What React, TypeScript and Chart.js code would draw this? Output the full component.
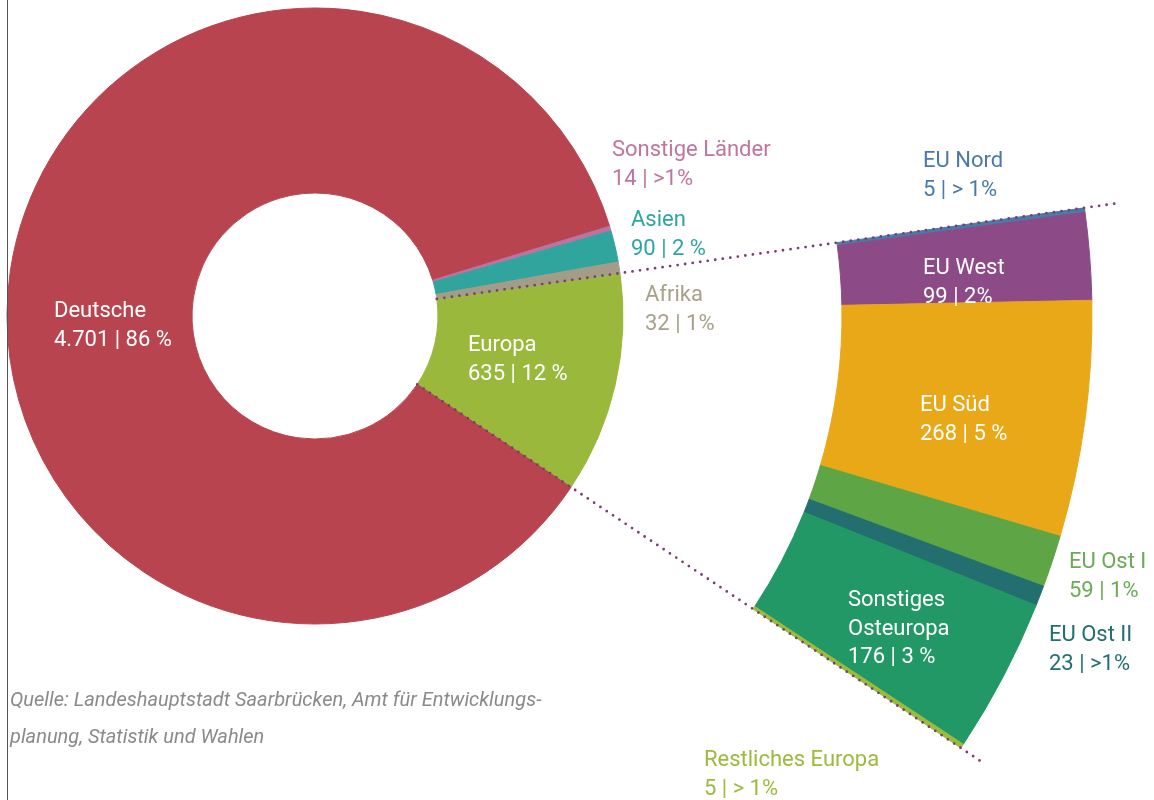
import React, { useEffect, useRef } from 'react';
import { Chart, registerables } from 'chart.js';

Chart.register(...registerables);

// ---------- data ----------
const mainLabels = ['Europa', 'Deutsche', 'Sonstige Länder', 'Asien', 'Afrika'];
const mainValues = [635, 4701, 14, 90, 32];
const mainShares = ['12 %', '86 %', '>1%', '2 %', '1%'];

const europeLabels = ['EU Nord', 'EU West', 'EU Süd', 'EU Ost I', 'EU Ost II', 'Sonstiges Osteuropa', 'Restliches Europa'];
const europeValues = [5, 99, 268, 59, 23, 176, 5];
const europeShares = ['> 1%', '2%', '5 %', '1%', '>1%', '3 %', '> 1%'];

const sourceLines = [
  'Quelle: Landeshauptstadt Saarbrücken, Amt für Entwicklungs-',
  'planung, Statistik und Wahlen',
];

// ---------- styles ----------
const mainColors = ['#99b83c', '#b8444f', '#bb73a1', '#30a59e', '#a39d88'];
const europeColors = ['#4a7aa9', '#8c4a87', '#e8a817', '#5ea546', '#236f70', '#219866', '#9bbb3c'];

const CENTER_X = 315;
const CENTER_Y = 316;
const OUTER_R = 777;
const CUT_R = 123;
const W = 1154;
const H = 800;
const FONT = '"Roboto", "Noto Sans", sans-serif';
const FS = 22;
const LH = 28.7;

// label anchor positions (left x, first baseline y)
const labelLayout: Record<string, { x: number; y: number; color: string; split?: boolean }> = {
  'Deutsche': { x: 54, y: 317, color: '#ffffff' },
  'Europa': { x: 468, y: 351, color: '#ffffff' },
  'Sonstige Länder': { x: 612, y: 156, color: '#c0759f' },
  'Asien': { x: 631, y: 226, color: '#2ea69f' },
  'Afrika': { x: 645, y: 301, color: '#a7a18b' },
  'EU Nord': { x: 923, y: 167, color: '#4a7aa9' },
  'EU West': { x: 923, y: 274, color: '#ffffff' },
  'EU Süd': { x: 920, y: 411, color: '#ffffff' },
  'EU Ost I': { x: 1069, y: 568, color: '#6aac55' },
  'EU Ost II': { x: 1049, y: 641, color: '#236f70' },
  'Sonstiges Osteuropa': { x: 848, y: 606, color: '#ffffff', split: true },
  'Restliches Europa': { x: 704, y: 766, color: '#9bbb3c' },
};

const fmt = (v: number) => v.toLocaleString('de-DE');

const labelPlugin = {
  id: 'customLabels',
  afterDatasetsDraw(chart: any) {
    const ctx = chart.ctx as CanvasRenderingContext2D;
    ctx.save();

    // dotted connector lines along the Europa wedge edges
    const mainMeta = chart.getDatasetMeta(2);
    const arc: any = mainMeta.data[0];
    if (arc) {
      const { x, y, startAngle, endAngle, innerRadius } = arc.getProps(['x', 'y', 'startAngle', 'endAngle', 'innerRadius'], true);
      ctx.strokeStyle = '#7b3e72';
      ctx.lineWidth = 2.8;
      ctx.lineCap = 'round';
      ctx.setLineDash([0, 7.6]);
      const edges: [number, number][] = [[startAngle, 813], [endAngle, 800]];
      for (const [a, rEnd] of edges) {
        ctx.beginPath();
        ctx.moveTo(x + Math.cos(a) * innerRadius, y + Math.sin(a) * innerRadius);
        ctx.lineTo(x + Math.cos(a) * rEnd, y + Math.sin(a) * rEnd);
        ctx.stroke();
      }
      ctx.setLineDash([]);
    }

    ctx.textAlign = 'left';
    ctx.textBaseline = 'alphabetic';
    ctx.font = `${FS}px ${FONT}`;
    const draw = (names: string[], values: number[], shares: string[]) => {
      names.forEach((name, i) => {
        const lay = labelLayout[name];
        if (!lay) return;
        const lines = lay.split ? name.split(' ') : [name];
        lines.push(`${fmt(values[i])} | ${shares[i]}`);
        ctx.fillStyle = lay.color;
        lines.forEach((t, k) => ctx.fillText(t, lay.x, lay.y + k * LH));
      });
    };
    draw(mainLabels, mainValues, mainShares);
    draw(europeLabels, europeValues, europeShares);

    ctx.font = `italic 20px ${FONT}`;
    ctx.fillStyle = '#8a8a8a';
    sourceLines.forEach((t, k) => ctx.fillText(t, 10, 706 + k * 36.5));
    ctx.restore();
  },
};

export default function App() {
  const ref = useRef<HTMLCanvasElement | null>(null);

  useEffect(() => {
    if (!ref.current) return;
    const total = mainValues.reduce((a, b) => a + b, 0);
    const europaSweep = (mainValues[0] / total) * 360;
    const rotation = 82;

    const chart = new Chart(ref.current, {
      type: 'doughnut',
      data: {
        labels: europeLabels,
        datasets: [
          {
            label: 'Europa',
            data: europeValues,
            backgroundColor: europeColors,
            borderColor: europeColors,
            borderWidth: 1,
            weight: OUTER_R - 527,
            rotation,
            circumference: europaSweep,
          } as any,
          {
            label: 'spacer',
            data: [1],
            backgroundColor: 'rgba(0,0,0,0)',
            borderWidth: 0,
            weight: 527 - 308,
            rotation,
            circumference: 360,
          } as any,
          {
            label: 'Gesamt',
            data: mainValues,
            backgroundColor: mainColors,
            borderColor: mainColors,
            borderWidth: 1,
            weight: 308 - CUT_R,
            rotation,
            circumference: 360,
          } as any,
        ],
      },
      options: {
        responsive: false,
        animation: false,
        radius: OUTER_R,
        cutout: `${(CUT_R / OUTER_R) * 100}%`,
        layout: {
          padding: { left: 0, top: 0, right: W - 2 * CENTER_X, bottom: H - 2 * CENTER_Y },
        },
        plugins: {
          legend: { display: false },
          tooltip: { enabled: false },
        },
        events: [],
      } as any,
      plugins: [labelPlugin],
    });
    return () => chart.destroy();
  }, []);

  return (
    <div style={{ position: 'fixed', left: 0, top: 0, width: W, height: H, overflow: 'hidden', background: '#ffffff' }}>
      <canvas ref={ref} width={W} height={H} style={{ position: 'absolute', left: 0, top: 0, width: W, height: H }} />
      <div style={{ position: 'absolute', left: 7, top: 0, width: 1, height: H, background: '#555555' }} />
    </div>
  );
}
